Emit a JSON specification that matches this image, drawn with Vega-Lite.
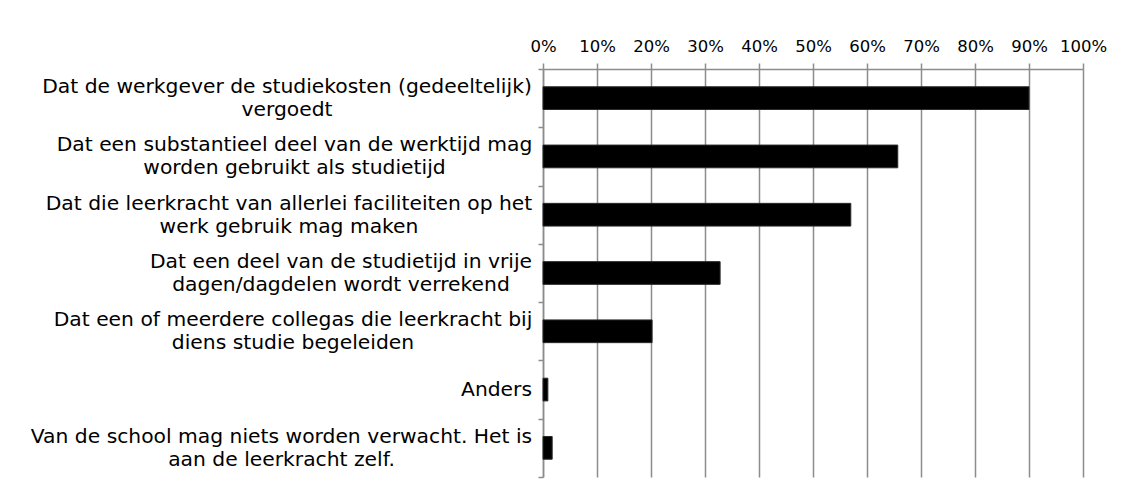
{
  "$schema": "https://vega.github.io/schema/vega-lite/v6.json",
  "width": 540,
  "height": 408,
  "autosize": {"type": "none"},
  "padding": {"left": 543, "top": 69, "right": 46, "bottom": 22},
  "background": "white",
  "config": {"view": {"stroke": null}, "font": "DejaVu Sans"},
  "data": {
    "values": [
      {"optie": "Dat de werkgever de studiekosten (gedeeltelijk)\nvergoedt", "aandeel": 0.90},
      {"optie": "Dat een substantieel deel van de werktijd mag\nworden gebruikt als studietijd", "aandeel": 0.657},
      {"optie": "Dat die leerkracht van allerlei faciliteiten op het\nwerk gebruik mag maken", "aandeel": 0.57},
      {"optie": "Dat een deel van de studietijd in vrije\ndagen/dagdelen wordt verrekend", "aandeel": 0.328},
      {"optie": "Dat een of meerdere collegas die leerkracht bij\ndiens studie begeleiden", "aandeel": 0.202},
      {"optie": "Anders", "aandeel": 0.009},
      {"optie": "Van de school mag niets worden verwacht. Het is\naan de leerkracht zelf.", "aandeel": 0.017}
    ]
  },
  "mark": {"type": "bar", "color": "black", "stroke": "#2a2a2a", "strokeWidth": 1, "height": {"band": 0.39}},
  "encoding": {
    "y": {
      "field": "optie",
      "type": "nominal",
      "sort": null,
      "scale": {"paddingInner": 0, "paddingOuter": 0},
      "axis": {
        "title": null,
        "labelExpr": "isString(datum.value) ? split(datum.value, '\\n') : ''",
        "labelFontSize": 20.3,
        "labelLineHeight": 23,
        "labelColor": "black",
        "labelAlign": "center",
        "labelBaseline": "middle",
        "labelPadding": {
          "condition": [
            {"test": "isString(datum.value) && indexof(datum.value, 'werkgever') >= 0", "value": 251.5},
            {"test": "isString(datum.value) && indexof(datum.value, 'substantieel') >= 0", "value": 244},
            {"test": "isString(datum.value) && indexof(datum.value, 'faciliteiten') >= 0", "value": 249.5},
            {"test": "isString(datum.value) && indexof(datum.value, 'vrije') >= 0", "value": 197.5},
            {"test": "isString(datum.value) && indexof(datum.value, 'collegas') >= 0", "value": 245.5},
            {"test": "datum.value == 'Anders'", "value": 42}
          ],
          "value": 257
        },
        "labelOffset": {"condition": {"test": "datum.value == 'Anders'", "value": 0}, "value": -11.5},
        "labelLimit": 700,
        "tickSize": 5,
        "tickBand": "extent",
        "tickColor": "#8c8c8c",
        "tickWidth": 1.5,
        "domain": true,
        "domainColor": "#8c8c8c",
        "domainWidth": 1.5,
        "grid": false
      }
    },
    "x": {
      "field": "aandeel",
      "type": "quantitative",
      "scale": {"domain": [0, 1], "nice": false},
      "axis": {
        "orient": "top",
        "title": null,
        "format": ".0%",
        "values": [0, 0.1, 0.2, 0.3, 0.4, 0.5, 0.6, 0.7, 0.8, 0.9, 1],
        "grid": true,
        "gridColor": "#8c8c8c",
        "gridWidth": 1.5,
        "gridOpacity": 1,
        "tickSize": 6,
        "tickColor": "#8c8c8c",
        "tickWidth": 1.5,
        "domainColor": "#8c8c8c",
        "domainWidth": 1.5,
        "labelFontSize": 16.5,
        "labelPadding": 9,
        "labelColor": "black",
        "labelFlush": false,
        "labelOverlap": false
      }
    }
  }
}
